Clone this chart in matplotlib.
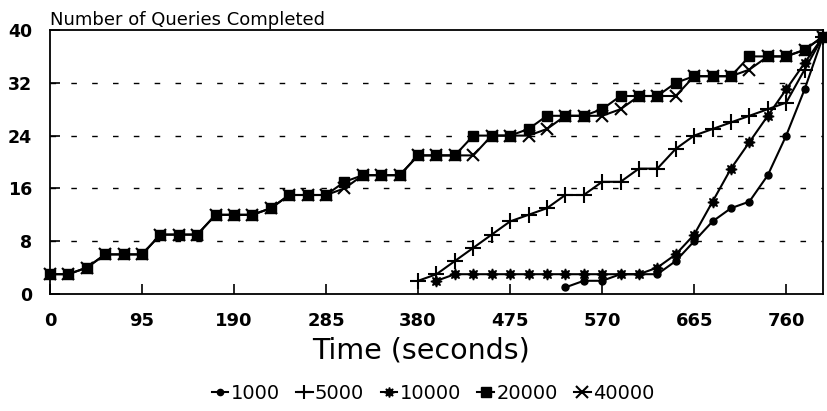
import numpy as np
import matplotlib
matplotlib.use("Agg")
import matplotlib.pyplot as plt

plt.rcParams['font.family'] = ['DejaVu Sans']

# sampling interval (seconds) and series values
time_step = 19
n_samples = 43

labels = ["1000", "5000", "10000", "20000", "40000"]
start_idx = {"1000": 28, "5000": 20, "10000": 21, "20000": 0, "40000": 0}

q1000 = [1, 2, 2, 3, 3, 3, 5, 8, 11, 13, 14, 18, 24, 31, 39]
q5000 = [2, 3, 5, 7, 9, 11, 12, 13, 15, 15, 17, 17, 19, 19, 22, 24, 25, 26, 27, 28, 29, 34, 39]
q10000 = [2, 3, 3, 3, 3, 3, 3, 3, 3, 3, 3, 3, 4, 6, 9, 14, 19, 23, 27, 31, 35, 39]
q20000 = [3, 3, 4, 6, 6, 6, 9, 9, 9, 12, 12, 12, 13, 15, 15, 15, 17, 18, 18, 18,
          21, 21, 21, 24, 24, 24, 25, 27, 27, 27, 28, 30, 30, 30, 32, 33, 33, 33,
          36, 36, 36, 37, 39]
q40000 = [3, 3, 4, 6, 6, 6, 9, 9, 9, 12, 12, 12, 13, 15, 15, 15, 16, 18, 18, 18,
          21, 21, 21, 21, 24, 24, 24, 25, 27, 27, 27, 28, 30, 30, 30, 33, 33, 33,
          34, 36, 36, 37, 39]

series = {"1000": q1000, "5000": q5000, "10000": q10000, "20000": q20000, "40000": q40000}
styles = {
    "1000": dict(marker='o', markersize=5),
    "5000": dict(marker='+', markersize=11, markeredgewidth=1.5),
    "10000": dict(marker=(8, 1, 0), markersize=8),
    "20000": dict(marker='s', markersize=7.5),
    "40000": dict(marker='x', markersize=9, markeredgewidth=1.5),
}

xticks = [0, 95, 190, 285, 380, 475, 570, 665, 760]
yticks = [0, 8, 16, 24, 32, 40]

fig = plt.figure(figsize=(8.27, 4.11), dpi=100)
ax = fig.add_axes([50/827, 1-294/411, 773/827, 264/411])

for lab in labels:
    vals = series[lab]
    t = (np.arange(len(vals)) + start_idx[lab]) * time_step
    ax.plot(t, vals, color='black', lw=1.5, clip_on=False, label=lab,
            markerfacecolor='black', markeredgecolor='black', zorder=3, **styles[lab])

ax.set_xlim(0, (n_samples - 1) * time_step)
ax.set_ylim(0, 40)
ax.set_xticks(xticks)
ax.set_xticklabels([str(v) for v in xticks], fontsize=13, fontweight='bold')
ax.set_yticks(yticks)
ax.set_yticklabels([str(v) for v in yticks], fontsize=12.5, fontweight='bold')
ax.tick_params(axis='both', direction='in', length=7, width=1.2, color='black')
ax.tick_params(axis='y', pad=13)
ax.tick_params(axis='x', pad=13)
for v in yticks[1:-1]:
    ax.axhline(v, color='black', lw=1.0, ls=(0, (4, 11)), zorder=1)
for s in ax.spines.values():
    s.set_linewidth(1.3)
    s.set_color('black')

fig.text(50/827, 1-25/411, "Number of Queries Completed", fontsize=13, ha='left', va='baseline')
fig.text(421/827, 1-350/411, "Time (seconds)", fontsize=20.5, ha='center', va='center')

handles, labs = ax.get_legend_handles_labels()
fig.legend(handles, labs, loc='center', bbox_to_anchor=(433/827, 1-393/411), ncol=5,
           frameon=False, fontsize=14, handlelength=0.85, handletextpad=0.12,
           columnspacing=0.85, borderaxespad=0, borderpad=0, markerscale=0.9)

fig.savefig("out.png", dpi=100)
